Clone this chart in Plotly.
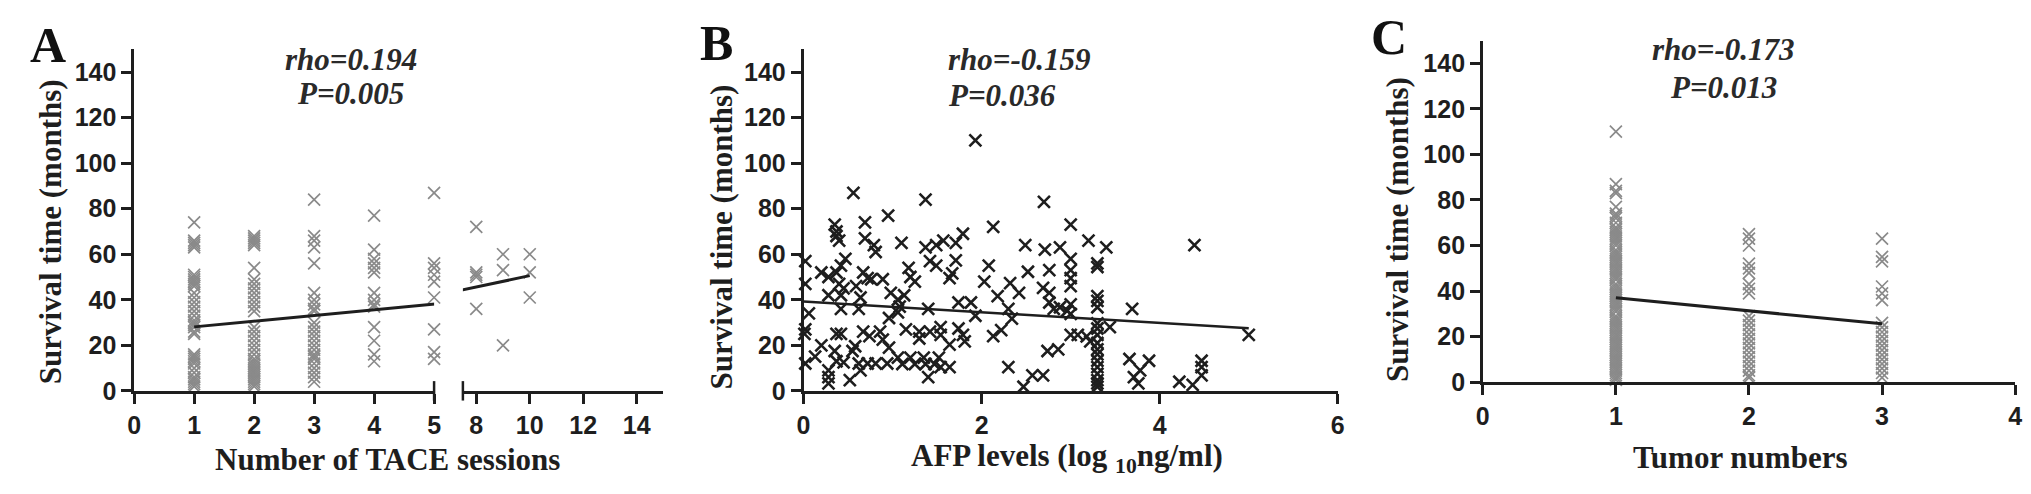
import plotly.graph_objects as go

W, H = 2031, 494

# --- values ---
# A: survival by number of TACE sessions (months)
tace_sessions = [1, 2, 3, 4, 5, 8, 9, 10]
tace_survival = [
    [74, 66, 65, 64, 63, 51, 50, 49, 48, 47, 46, 43, 41, 39, 37, 35, 33, 31, 30,
     29, 28, 26, 25, 16, 15, 14, 13, 12, 10, 8, 6, 5, 4, 3, 2],
    [68, 67, 66, 65, 64, 54, 49, 47, 45, 43, 41, 39, 37, 35, 28, 26, 24, 22, 20,
     18, 16, 14, 13, 12, 11, 10, 9, 8, 7, 6, 5, 4, 3, 2],
    [84, 68, 66, 63, 56, 43, 40, 38, 36, 35, 30, 28, 26, 24, 22, 20, 18, 16, 15,
     14, 12, 10, 8, 6, 4],
    [77, 62, 58, 56, 54, 52, 43, 40, 38, 37, 28, 22, 16, 13],
    [87, 56, 54, 51, 48, 41, 27, 17, 14],
    [72, 52, 51, 50, 36],
    [60, 53, 20],
    [60, 52, 41],
]
tace_fit_x = [1, 10]
tace_fit_y = [28.1, 50.6]

# B: survival vs AFP (log10 ng/ml)
afp_log = [
    1.93, 0.56, 1.37, 2.70, 0.95, 2.13, 3.00, 4.39, 0.35, 0.69, 0.69, 0.37, 0.37, 0.40,
    0.79, 0.81, 1.10, 1.37, 1.49, 1.57, 1.79, 1.71, 3.20, 3.40, 2.49, 2.71, 2.88, 3.00,
    0.02, 0.02, 0.06, 0.02, 0.01, 0.02, 0.13, 0.20, 0.20, 0.28, 0.28, 0.37, 0.42, 0.47,
    0.40, 0.45, 0.42, 0.42, 0.37, 0.42, 0.35, 0.37, 0.45, 0.28, 0.28, 0.28, 0.52, 0.55,
    0.58, 0.59, 0.67, 0.72, 0.64, 0.62, 0.67, 0.74, 0.62, 0.72, 0.81, 0.64, 0.76, 0.89,
    0.86, 0.89, 0.96, 0.94, 0.96, 0.98, 1.06, 1.08, 1.06, 1.13, 1.15, 1.06, 1.11, 1.18,
    1.20, 1.25, 1.30, 1.30, 1.20, 1.25, 1.35, 1.40, 1.42, 1.37, 1.40, 1.42, 1.49, 1.54,
    1.54, 1.52, 1.54, 1.47, 1.64, 1.67, 1.64, 1.64, 1.71, 1.74, 1.74, 1.79, 1.81, 1.88,
    1.93, 2.03, 2.08, 2.13, 2.18, 2.22, 2.30, 2.32, 2.30, 2.34, 2.42, 2.47, 2.52, 2.57,
    2.69, 2.69, 2.76, 2.76, 2.76, 2.74, 2.86, 2.81, 2.88, 2.96, 3.00, 3.00, 3.00, 3.00,
    3.00, 3.00, 3.08, 3.18, 3.22, 3.30, 3.30, 3.30, 3.30, 3.30, 3.30, 3.30, 3.30, 3.30,
    3.30, 3.30, 3.30, 3.30, 3.30, 3.30, 3.30, 3.30, 3.44, 3.69, 3.66, 3.71, 3.76, 3.78,
    3.88, 4.22, 4.37, 4.47, 4.47, 4.47, 5.00,
]
afp_survival = [
    110, 87, 84, 83, 77, 72, 73, 64, 73, 74, 67, 70, 68, 66,
    64, 61, 65, 63, 64, 66, 69, 65, 66, 63, 64, 62, 63, 58,
    57, 47, 34, 27, 25, 12, 15, 20, 52, 50, 42, 52, 55, 58,
    47, 45, 42, 36, 25, 25, 17.5, 13, 12.5, 9, 6, 3.3, 4.7, 17.5,
    19.6, 46, 52, 49.5, 41, 36, 26, 24, 12, 12, 12, 9, 49, 49,
    26, 22.5, 19, 12, 32, 43, 40, 37, 34.5, 42, 27, 14.6, 11.8, 54,
    50, 48, 26, 23, 14.6, 11.8, 14.6, 36, 26, 11.8, 6, 57, 55, 28,
    24.6, 14.6, 10.4, 11.8, 49.5, 51.6, 20.3, 10.4, 57.3, 38.8, 27.4, 24.6, 21.7, 38.8,
    33, 48, 55, 24, 41.6, 26.7, 10.4, 47.3, 36, 31.7, 43, 1.8, 52.3, 6.8,
    6.8, 45.2, 53, 43, 38.8, 17.5, 18.2, 36, 36.7, 35.2, 53, 49.5, 46, 38,
    33.8, 24.6, 24.6, 23.9, 21.7, 56, 54.4, 41.6, 39.5, 36.7, 29.6, 27.4, 24.6, 21,
    18.2, 16, 13.2, 10.4, 7.5, 4.7, 3.3, 1.8, 28, 36, 14, 6, 3.3, 9,
    13.2, 4, 2.6, 6.8, 10.4, 13.2, 24.6,
]
afp_fit_x = [0, 5]
afp_fit_y = [39.2, 27.5]

# C: survival by tumor numbers
tumor_numbers = [1, 2, 3]
tumor_survival = [
    [110, 87, 84, 83, 77, 74, 73, 72, 70, 68, 67, 66, 65, 64, 63, 62, 61, 60, 58,
     57, 56, 55, 54, 53, 52, 51, 50, 49, 48, 47, 46, 45, 43, 42, 41, 40, 39, 38,
     37, 36, 35, 34, 33, 32, 31, 29, 28, 27, 26, 25, 24, 23, 22, 21, 20, 19, 18,
     17, 16, 15, 14, 13, 12, 11, 10, 9, 8, 7, 6, 5, 4, 3, 2, 1],
    [65, 63, 60, 52, 50, 48, 43, 41, 39, 29, 27, 25, 23, 21, 19, 17, 15, 13, 11,
     9, 7, 5, 3, 2],
    [63, 55, 53, 42, 39, 36, 26, 24, 22, 20, 18, 16, 14, 12, 10, 8, 6, 4, 2],
]
tumor_fit_x = [1, 3]
tumor_fit_y = [37.0, 25.6]

y_ticks = [0, 20, 40, 60, 80, 100, 120, 140]
y_title = "Survival time (months)"

SERIF = "Liberation Serif, Times New Roman, serif"
SANS = "Liberation Sans, Arial, sans-serif"
GRAY = "#8a8a8a"
INK = "#1e1e1e"


def fx(px):
    return px / W


def fy(py):
    return 1 - py / H


def cross(color, width):
    # open symbols take their stroke from marker.color
    return dict(symbol="x-thin-open", size=12, color=color, line=dict(color=color, width=width))


fig = go.Figure()

# A: grey crosses on a broken x axis
for g, vals in zip(tace_sessions, tace_survival):
    fig.add_trace(go.Scatter(
        x=[g] * len(vals), y=vals, mode="markers",
        xaxis="x" if g <= 5 else "x2", yaxis="y",
        marker=cross(GRAY, 1.7), cliponaxis=False, showlegend=False,
    ))
for xa in ["x", "x2"]:
    fig.add_trace(go.Scatter(
        x=tace_fit_x, y=tace_fit_y, mode="lines", xaxis=xa, yaxis="y",
        line=dict(color=INK, width=3), showlegend=False, hoverinfo="skip",
    ))

# B: black crosses
fig.add_trace(go.Scatter(
    x=afp_log, y=afp_survival, mode="markers", xaxis="x3", yaxis="y2",
    marker=cross(INK, 2.6), cliponaxis=False, showlegend=False,
))
fig.add_trace(go.Scatter(
    x=afp_fit_x, y=afp_fit_y, mode="lines", xaxis="x3", yaxis="y2",
    line=dict(color=INK, width=2.5), showlegend=False, hoverinfo="skip",
))

# C: grey crosses
for g, vals in zip(tumor_numbers, tumor_survival):
    fig.add_trace(go.Scatter(
        x=[g] * len(vals), y=vals, mode="markers", xaxis="x4", yaxis="y3",
        marker=cross(GRAY, 1.7), cliponaxis=False, showlegend=False,
    ))
fig.add_trace(go.Scatter(
    x=tumor_fit_x, y=tumor_fit_y, mode="lines", xaxis="x4", yaxis="y3",
    line=dict(color=INK, width=3), showlegend=False, hoverinfo="skip",
))

axis_style = dict(
    showline=True, linecolor=INK, linewidth=2.5, ticks="outside", ticklen=10,
    tickwidth=2.5, tickcolor=INK, showgrid=False, zeroline=False,
    tickfont=dict(family=SANS, size=25, color=INK, weight="bold"),
)

fig.update_layout(
    width=W, height=H,
    margin=dict(l=0, r=0, t=0, b=0),
    paper_bgcolor="white", plot_bgcolor="white",
    xaxis=dict(domain=[fx(120), fx(422)], range=[0, 5], tickvals=[0, 1, 2, 3, 4, 5],
               anchor="y", **axis_style),
    xaxis2=dict(domain=[fx(451), fx(653)], range=[7.5, 15], tickvals=[8, 10, 12, 14],
                anchor="y", **axis_style),
    yaxis=dict(domain=[fy(394), fy(42.6)], range=[0, 150], tickvals=y_ticks,
               anchor="x", **axis_style),
    xaxis3=dict(domain=[fx(794), fx(1332)], range=[0, 6], tickvals=[0, 2, 4, 6],
                anchor="y2", **axis_style),
    yaxis2=dict(domain=[fy(394), fy(42.6)], range=[0, 150], tickvals=y_ticks,
                anchor="x3", **axis_style),
    xaxis4=dict(domain=[fx(1478), fx(2014)], range=[0, 4], tickvals=[0, 1, 2, 3, 4],
                anchor="y3", **axis_style),
    yaxis3=dict(domain=[fy(385), fy(33.6)], range=[0, 150], tickvals=y_ticks,
                anchor="x4", **axis_style),
)

# axis-break markers on panel A
for bx in [422, 451]:
    fig.add_shape(type="line", xref="paper", yref="paper",
                  x0=fx(bx), x1=fx(bx), y0=fy(384), y1=fy(404),
                  line=dict(color=INK, width=2.5))

notes = []
# panel letters
for txt, px, py in [("A", 33, 38), ("B", 706, 36), ("C", 1384, 30)]:
    notes.append(dict(text=txt, x=fx(px), y=fy(py),
                      font=dict(family=SERIF, size=50, color="#111", weight="bold")))
# axis titles
title_font = dict(family=SERIF, size=31, color=INK, weight="bold")
notes += [
    dict(text="Number of TACE sessions", x=fx(375), y=fy(465), font=title_font),
    dict(text="AFP levels (log <sub>10</sub>ng/ml)", x=fx(1059), y=fy(463), font=title_font),
    dict(text="Tumor numbers", x=fx(1737), y=fy(463), font=title_font),
    dict(text=y_title, x=fx(36), y=fy(230), font=title_font, textangle=-90),
    dict(text=y_title, x=fx(711), y=fy(236), font=title_font, textangle=-90),
    dict(text=y_title, x=fx(1392), y=fy(228), font=title_font, textangle=-90),
]
# correlation statistics
stat_font = dict(family=SERIF, size=31, color="#2a2a2a", weight="bold", style="italic")
notes += [
    dict(text="rho=0.194", x=fx(338), y=fy(53), font=stat_font),
    dict(text="P=0.005", x=fx(338), y=fy(88), font=stat_font),
    dict(text="rho=-0.159", x=fx(937), y=fy(53), font=stat_font, xanchor="left"),
    dict(text="P=0.036", x=fx(937), y=fy(90), font=stat_font, xanchor="left"),
    dict(text="rho=-0.173", x=fx(1720), y=fy(43), font=stat_font),
    dict(text="P=0.013", x=fx(1720), y=fy(82), font=stat_font),
]
for n in notes:
    n.setdefault("xanchor", "center")
    fig.add_annotation(xref="paper", yref="paper", yanchor="middle", showarrow=False, **n)

fig.write_html("out.html")
